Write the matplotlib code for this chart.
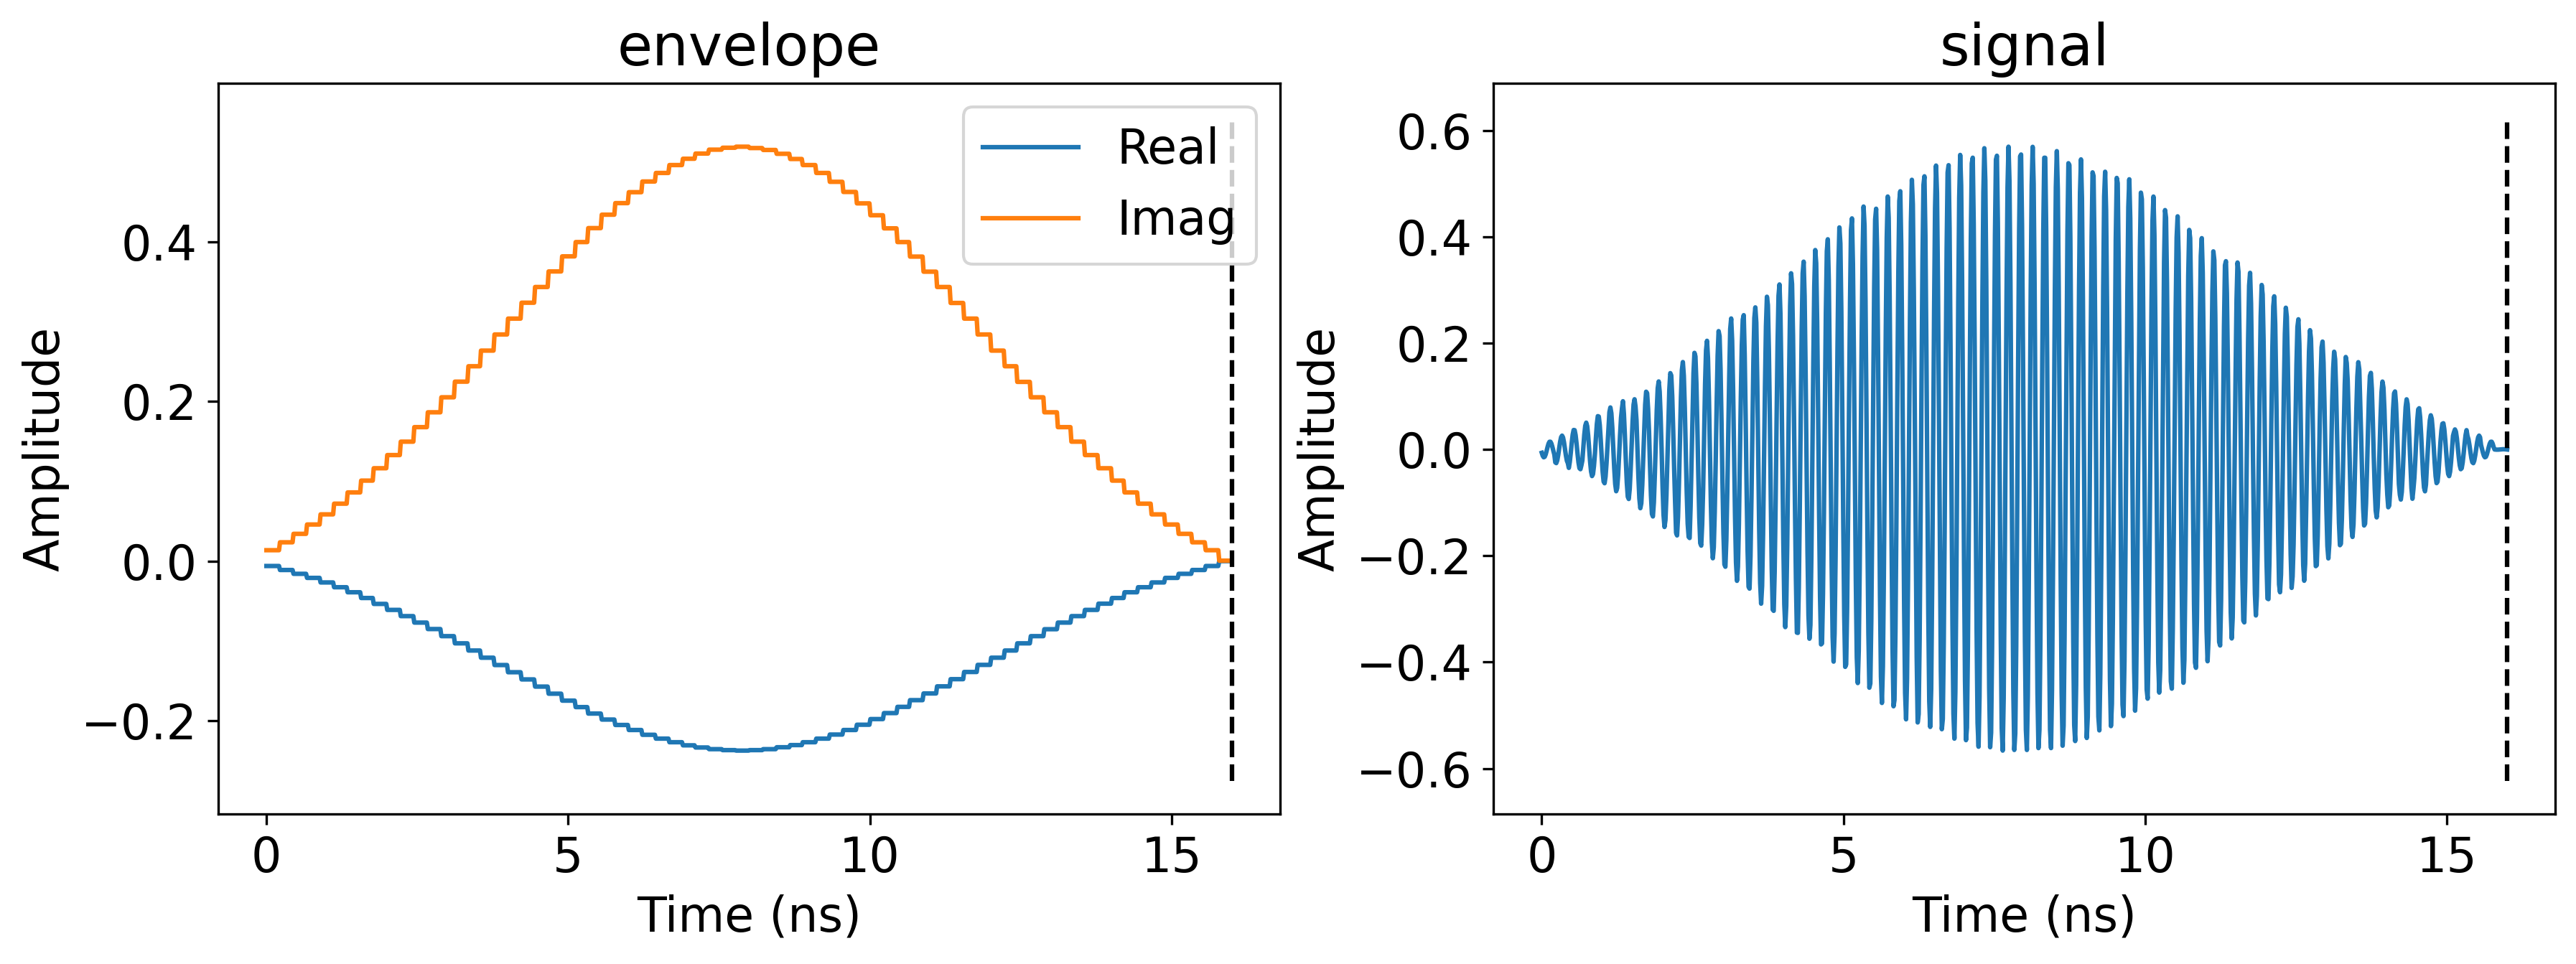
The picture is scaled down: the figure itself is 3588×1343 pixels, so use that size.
import matplotlib
matplotlib.use('Agg')
import matplotlib.pyplot as plt
import numpy as np

# Piecewise-constant envelope samples, dt = 1/4.5 ns
env_real = [
    -0.0063, -0.0113, -0.0161, -0.0212, -0.0269, -0.0329, -0.0392, -0.0464, -0.0538, -0.0613,
    -0.0691, -0.0772, -0.0853, -0.0942, -0.1032, -0.1122, -0.1212, -0.1304, -0.1394, -0.1484,
    -0.1574, -0.1663, -0.1750, -0.1831, -0.1912, -0.1987, -0.2055, -0.2118, -0.2178, -0.2226,
    -0.2271, -0.2310, -0.2337, -0.2358, -0.2370, -0.2376, -0.2370, -0.2358, -0.2334, -0.2307,
    -0.2271, -0.2226, -0.2175, -0.2118, -0.2052, -0.1981, -0.1906, -0.1828, -0.1744, -0.1660,
    -0.1571, -0.1481, -0.1391, -0.1302, -0.1212, -0.1122, -0.1032, -0.0942, -0.0855, -0.0772,
    -0.0691, -0.0613, -0.0535, -0.0464, -0.0392, -0.0329, -0.0269, -0.0212, -0.0161, -0.0113,
    -0.0063, -0.0002,
]
env_imag = [
    0.0135, 0.0234, 0.0340, 0.0457, 0.0584, 0.0718, 0.0859, 0.1007, 0.1162, 0.1327,
    0.1495, 0.1677, 0.1863, 0.2051, 0.2247, 0.2440, 0.2636, 0.2838, 0.3037, 0.3236,
    0.3433, 0.3628, 0.3817, 0.3996, 0.4171, 0.4339, 0.4484, 0.4621, 0.4755, 0.4862,
    0.4961, 0.5040, 0.5105, 0.5154, 0.5178, 0.5191, 0.5174, 0.5150, 0.5102, 0.5037,
    0.4961, 0.4862, 0.4751, 0.4624, 0.4481, 0.4332, 0.4168, 0.3996, 0.3814, 0.3625,
    0.3433, 0.3233, 0.3037, 0.2838, 0.2636, 0.2440, 0.2244, 0.2051, 0.1863, 0.1677,
    0.1495, 0.1327, 0.1162, 0.1007, 0.0859, 0.0718, 0.0584, 0.0457, 0.0340, 0.0234,
    0.0135, 0.0004,
]
sample_dt = 1 / 4.5      # ns
carrier_freq = 5.0       # GHz
t_end = 16.0             # ns
n_draw = 1000

plt.rcParams['font.size'] = 16


def sample_envelope(t):
    idx = np.clip((t / sample_dt).astype(int), 0, len(env_real) - 1)
    return np.asarray(env_real)[idx] + 1j * np.asarray(env_imag)[idx]


def mark_end(ax):
    # dashed marker at the end of the pulse, spanning the current y-range
    lo, hi = ax.get_ylim()
    ax.vlines(t_end, lo, hi, colors='k', linestyles='--', linewidth=1.5)


t = np.linspace(0, t_end, n_draw)
env = sample_envelope(t)
sig = np.real(env * np.exp(2j * np.pi * carrier_freq * t))

fig, (ax1, ax2) = plt.subplots(1, 2, figsize=(3588 / 300, 1343 / 300), dpi=300)
fig.subplots_adjust(left=0.0847, right=0.992, top=0.9136, bottom=0.1556, wspace=0.201)

# Envelope
ax1.plot(t, env.real, label='Real')
ax1.plot(t, env.imag, label='Imag')
mark_end(ax1)
ax1.set_title('envelope')
ax1.set_xlabel('Time (ns)')
ax1.set_ylabel('Amplitude')
ax1.legend(loc='upper right')

# Signal
ax2.plot(t, sig)
mark_end(ax2)
ax2.set_title('signal')
ax2.set_xlabel('Time (ns)')
ax2.set_ylabel('Amplitude')

fig.savefig('out.png', dpi=300)
